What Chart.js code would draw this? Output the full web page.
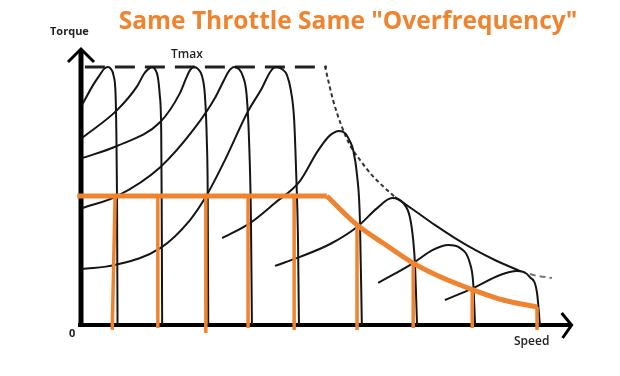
<!DOCTYPE html>
<html>
<head>
<meta charset="utf-8">
<script src="https://cdn.jsdelivr.net/npm/chart.js@4.4.0/dist/chart.umd.min.js"></script>
<style>
  html, body { margin: 0; padding: 0; background: #fff; }
  #wrap { width: 620px; height: 376px; }
</style>
</head>
<body>
<div id="wrap"><canvas id="c" width="620" height="376"></canvas></div>
<script>
// speed in % of axis length, torque in % of Tmax
const speedMax = 102;
const torqueMax = 107;

// torque-speed curves, [speed, torque]
const curve1 = [[0,85.3],[2.3,93.0],[3.8,97.2],[4.6,99.3],[5.4,100],[6.0,99.3],[6.6,96.5],[7.0,89.1],[7.15,75.6],[7.3,48.4],[7.4,0]];
const curve2 = [[0,72.5],[7.3,83.3],[11.5,92.6],[12.9,97.3],[13.8,99.2],[14.6,100],[15.2,99.2],[15.8,96.1],[16.2,89.1],[16.5,75.6],[16.6,48.4],[16.7,0]];
const curve3 = [[0,64.7],[7.3,69.4],[16.3,78.7],[20.4,89.9],[21.7,95.7],[22.5,98.8],[23.3,100],[24.2,99.2],[25.0,96.5],[25.6,89.1],[26.0,71.7],[26.2,48.4],[26.3,0]];
const curve4 = [[0,45.3],[7.3,50.0],[16.3,61.2],[23.5,76.4],[27.7,88.0],[29.6,95.0],[30.6,98.4],[31.7,100],[32.7,99.2],[33.5,96.5],[34.3,89.1],[34.8,71.7],[35.2,40.7],[35.4,0]];
const curve5 = [[0,21.7],[6.9,23.3],[16.3,29.8],[22.5,40.7],[26.0,50.4],[29.8,64.0],[34.4,82.2],[37.5,91.9],[39.2,98.1],[40.4,100],[41.7,99.2],[42.7,96.9],[43.5,91.1],[44.2,79.5],[44.6,60.1],[45.0,32.9],[45.2,0]];
const curve6 = [[29.2,33.7],[35.0,39.5],[40.2,47.3],[45.4,55.8],[49.0,67.1],[51.3,72.9],[52.3,74.4],[53.5,75.2],[54.8,74.4],[55.8,71.3],[56.5,67.8],[57.3,58.1],[57.9,40.7],[58.3,0]];
const curve7 = [[40.2,22.9],[45.4,26.4],[51.7,31.4],[57.3,38.0],[61.5,45.3],[64.6,49.2],[66.9,47.3],[68.3,41.9],[69.0,32.9],[69.4,22.5],[69.8,0]];
const curve8 = [[61.7,16.3],[69.0,24.0],[73.1,29.1],[76.3,31.0],[78.8,29.8],[80.8,24.0],[81.5,16.3],[81.9,0]];
const curve9 = [[75.6,9.7],[81.5,14.3],[87.1,19.4],[90.6,20.9],[93.3,18.6],[94.8,12.4],[95.4,0]];

// Tmax line and constant-power envelope
const tmaxLine = [[0.6,100],[51.0,100]];
const envelopeDotted = [[50.6,100.4],[52.3,87.2],[54.0,77.5],[55.8,69.8],[57.9,64.0],[60.4,58.1],[63.1,53.1],[65.2,49.6]];
const envelopeSolid = [[65.2,49.6],[69.4,44.2],[73.5,38.8],[77.7,33.7],[81.9,29.1],[86.0,25.2],[91.3,20.9]];
const envelopeTail = [[91.3,20.9],[94.0,19.4],[97.9,18.2]];

// orange: same throttle line
const throttleFlat = [[-1.0,50],[51.0,50]];
const throttleCurve = [[51.0,50.0],[57.3,38.8],[62.7,31.8],[69.0,24.0],[75.2,18.2],[81.5,13.6],[87.7,9.7],[94.8,7.0]];
const dropSpeedTop = [6.9, 15.8, 25.8, 34.6, 44.2, 57.3, 69.0, 81.3, 94.8];
const dropSpeedBottom = [6.3, 15.8, 25.8, 34.6, 44.2, 57.3, 69.0, 81.3, 94.8];
const dropTorqueTop = [50, 50, 50, 50, 50, 38.8, 24.0, 13.6, 7.0];
const dropTorqueBottom = [-1.9, -1.2, -3.1, -1.2, -1.9, -1.9, -1.2, -1.2, -1.9];

const ORANGE = '#ef8430';
const BLACK = '#151515';

const pts = arr => arr.map(([x, y]) => ({ x, y }));

const datasets = [];
datasets.push({ data: pts(throttleFlat), borderColor: ORANGE, borderWidth: 5, tension: 0, order: 0 });
datasets.push({ data: pts(throttleCurve), borderColor: ORANGE, borderWidth: 5, cubicInterpolationMode: 'monotone', order: 0 });
dropSpeedTop.forEach((s, i) => {
  datasets.push({
    data: [{ x: s, y: dropTorqueTop[i] }, { x: dropSpeedBottom[i], y: dropTorqueBottom[i] }],
    borderColor: ORANGE, borderWidth: 3.5, tension: 0, order: 0
  });
});
[curve1, curve2, curve3, curve4, curve5, curve6, curve7, curve8, curve9].forEach(c => {
  datasets.push({ data: pts(c), borderColor: BLACK, borderWidth: 2, cubicInterpolationMode: 'monotone', order: 2 });
});
datasets.push({ data: pts(tmaxLine), borderColor: '#222', borderWidth: 3, borderDash: [20, 10], tension: 0, order: 2 });
datasets.push({ data: pts(envelopeDotted), borderColor: '#333', borderWidth: 2, borderDash: [4, 3], cubicInterpolationMode: 'monotone', order: 2 });
datasets.push({ data: pts(envelopeSolid), borderColor: BLACK, borderWidth: 2, cubicInterpolationMode: 'monotone', order: 2 });
datasets.push({ data: pts(envelopeTail), borderColor: '#777', borderWidth: 2, borderDash: [6, 4], cubicInterpolationMode: 'monotone', order: 2 });
datasets.forEach(d => { d.pointRadius = 0; d.fill = false; d.clip = false; });

const axesArrows = {
  id: 'axesArrows',
  beforeDatasetsDraw(chart) {
    const { ctx, scales: { x, y } } = chart;
    const x0 = x.getPixelForValue(0), y0 = y.getPixelForValue(0);
    const xEnd = x.getPixelForValue(speedMax), yEnd = y.getPixelForValue(torqueMax);
    ctx.save();
    ctx.strokeStyle = '#000';
    ctx.lineWidth = 5;
    ctx.beginPath(); ctx.moveTo(x0 - 1, y0 + 2); ctx.lineTo(x0 - 1, yEnd + 1); ctx.stroke();
    ctx.lineWidth = 4;
    ctx.beginPath(); ctx.moveTo(x0 - 4, y0); ctx.lineTo(xEnd, y0); ctx.stroke();
    ctx.lineWidth = 3;
    ctx.lineJoin = 'miter';
    ctx.beginPath(); ctx.moveTo(x0 - 14, yEnd + 13); ctx.lineTo(x0 - 1, yEnd); ctx.lineTo(x0 + 12, yEnd + 13); ctx.stroke();
    ctx.beginPath(); ctx.moveTo(xEnd - 10, y0 - 12); ctx.lineTo(xEnd, y0); ctx.lineTo(xEnd - 9, y0 + 13); ctx.stroke();
    ctx.restore();
  },
  afterDraw(chart) {
    const { ctx } = chart;
    ctx.save();
    ctx.textBaseline = 'alphabetic';
    ctx.fillStyle = ORANGE;
    ctx.textAlign = 'center';
    ctx.font = 'bold 24.5px "Open Sans"';
    ctx.fillText('Same Throttle Same "Overfrequency"', 348, 29);
    ctx.fillStyle = '#222';
    ctx.textAlign = 'left';
    ctx.font = 'bold 11px "Open Sans"';
    ctx.fillText('Torque', 50, 35);
    ctx.fillText('0', 69, 337);
    ctx.font = '600 12px "Open Sans"';
    ctx.fillText('Tmax', 171, 58);
    ctx.fillText('Speed', 514, 345);
    ctx.restore();
  }
};

new Chart(document.getElementById('c'), {
  type: 'line',
  data: { datasets },
  options: {
    responsive: false,
    animation: false,
    devicePixelRatio: 1,
    layout: { padding: { left: 82, right: 48.4, top: 49, bottom: 51 } },
    plugins: { legend: { display: false }, tooltip: { enabled: false }, title: { display: false } },
    scales: {
      x: { type: 'linear', min: 0, max: speedMax, display: false },
      y: { type: 'linear', min: 0, max: torqueMax, display: false }
    }
  },
  plugins: [axesArrows]
});
</script>
</body>
</html>
